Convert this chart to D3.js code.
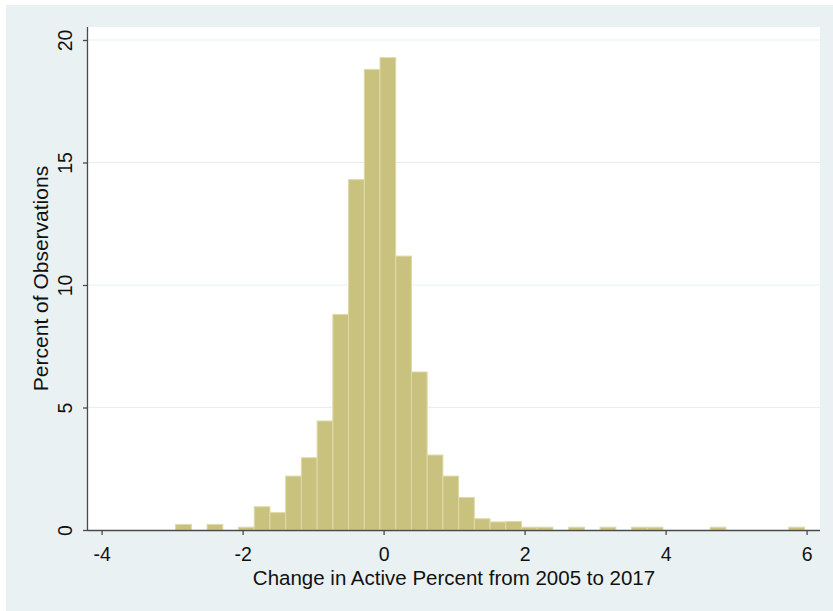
<!DOCTYPE html>
<html>
<head>
<meta charset="utf-8">
<script src="https://cdn.jsdelivr.net/npm/d3@7"></script>
<style>
  html, body { margin: 0; padding: 0; background: #ffffff; }
  svg { display: block; }
  text { font-family: "Liberation Sans", Arial, sans-serif; fill: #111; }
</style>
</head>
<body>
<svg id="chart" width="833" height="611"></svg>
<script>
// Histogram: 40 equal-width bins of the change in active percent
const binStart = -2.95;
const binWidth = 0.223;
const binPercents = [
  0.23, 0, 0.23, 0, 0.115, 0.95, 0.71, 2.2, 2.95, 4.45,
  8.8, 14.3, 18.8, 19.28, 11.18, 6.45, 3.06, 2.2, 1.33, 0.46,
  0.33, 0.345, 0.115, 0.115, 0, 0.115, 0, 0.115, 0, 0.115,
  0.115, 0, 0, 0, 0.115, 0, 0, 0, 0, 0.115
];
const xTicks = [-4, -2, 0, 2, 4, 6];
const yTicks = [0, 5, 10, 15, 20];
const xTitle = "Change in Active Percent from 2005 to 2017";
const yTitle = "Percent of Observations";

const bins = binPercents.map((v, i) => ({
  x0: binStart + i * binWidth,
  x1: binStart + (i + 1) * binWidth,
  value: v
}));

const svg = d3.select("#chart");
const W = 833, H = 611;
const plot = { left: 88, right: 820, top: 27, bottom: 530 };

// Outer graph region
svg.append("rect").attr("x", 6).attr("y", 5).attr("width", W - 6).attr("height", H - 5)
  .attr("fill", "#eaf1f3");
// Plot region
svg.append("rect").attr("x", plot.left).attr("y", plot.top)
  .attr("width", plot.right - plot.left).attr("height", plot.bottom - plot.top)
  .attr("fill", "#ffffff");

const x = d3.scaleLinear().domain([-4, 6]).range([101.6, 806.6]);
const y = d3.scaleLinear().domain([0, 20]).range([plot.bottom, 40]);

// Gridlines
svg.append("g").selectAll("line")
  .data(yTicks.filter(d => d > 0))
  .join("line")
  .attr("x1", plot.left).attr("x2", plot.right)
  .attr("y1", d => y(d)).attr("y2", d => y(d))
  .attr("stroke", "#e6efef").attr("stroke-width", 1.2);

// Bars
svg.append("g").selectAll("rect")
  .data(bins.filter(b => b.value > 0))
  .join("rect")
  .attr("x", d => x(d.x0))
  .attr("width", d => x(d.x1) - x(d.x0))
  .attr("y", d => y(d.value))
  .attr("height", d => y(0) - y(d.value))
  .attr("fill", "#c9c27e")
  .attr("stroke", "#dfdaaa")
  .attr("stroke-width", 1);

// Axes
const xAxis = d3.axisBottom(x).tickValues(xTicks).tickSize(5)
  .tickFormat(d => d < 0 ? "-" + Math.abs(d) : String(d));
const gx = svg.append("g").attr("transform", `translate(0,${plot.bottom})`).call(xAxis);
gx.select(".domain").attr("d", `M${plot.left},0.5H${plot.right}`).attr("stroke", "#4a4a4a").attr("stroke-width", 1.3);
gx.selectAll(".tick line").attr("stroke", "#4a4a4a").attr("stroke-width", 1.3);
gx.selectAll(".tick text").attr("font-size", 19.5).attr("fill", "#111")
  .attr("font-family", "Liberation Sans, Arial, sans-serif")
  .attr("y", 31).attr("dy", null);

const yAxis = d3.axisLeft(y).tickValues(yTicks).tickSize(5).tickPadding(0);
const gy = svg.append("g").attr("transform", `translate(${plot.left},0)`).call(yAxis);
gy.select(".domain").attr("d", `M-0.5,${plot.top}V${plot.bottom}`).attr("stroke", "#4a4a4a").attr("stroke-width", 1.3);
gy.selectAll(".tick line").attr("stroke", "#4a4a4a").attr("stroke-width", 1.3);
gy.selectAll(".tick text")
  .attr("font-size", 19.5).attr("fill", "#111")
  .attr("font-family", "Liberation Sans, Arial, sans-serif")
  .attr("x", null).attr("dy", null)
  .attr("text-anchor", "middle")
  .attr("transform", "translate(-16,0) rotate(-90)");

// Axis titles
svg.append("text")
  .attr("x", (plot.left + plot.right) / 2).attr("y", 585)
  .attr("text-anchor", "middle").attr("font-size", 20.5)
  .text(xTitle);
svg.append("text")
  .attr("transform", `translate(48,${(plot.top + plot.bottom) / 2}) rotate(-90)`)
  .attr("text-anchor", "middle").attr("font-size", 21)
  .text(yTitle);
</script>
</body>
</html>
